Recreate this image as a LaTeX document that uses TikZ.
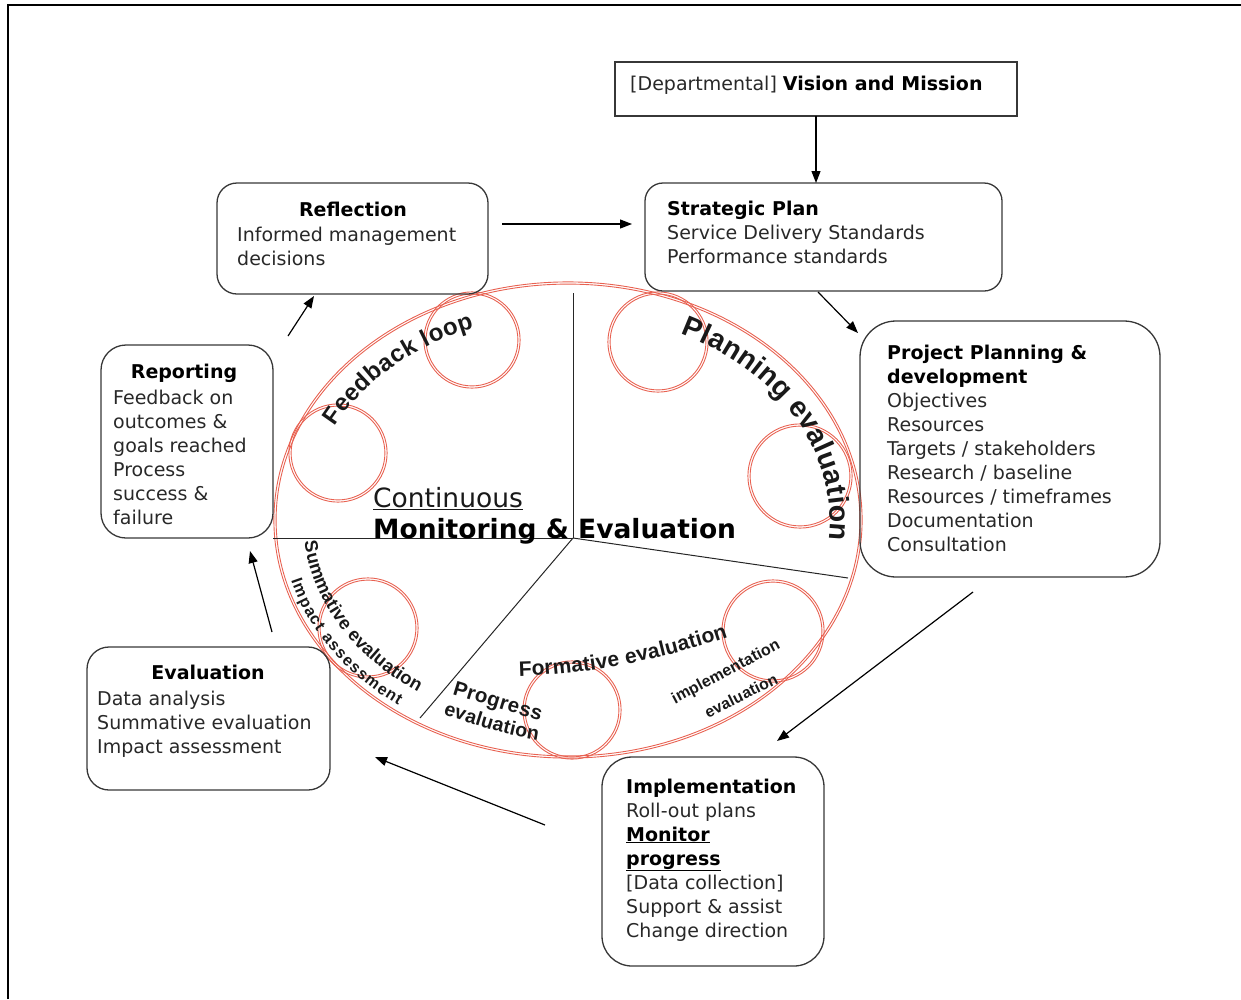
\documentclass[tikz,border=0pt]{standalone}
\usepackage{fontspec}
\setmainfont{DejaVu Sans}
\newfontfamily\arcfont{Liberation Sans}
\usetikzlibrary{arrows.meta,decorations.text}

\definecolor{ringred}{RGB}{232,98,82}
\definecolor{boxline}{RGB}{55,55,55}
\definecolor{bodytext}{RGB}{40,40,40}

\newcommand\boxfont{\fontsize{19}{24}\selectfont}
\newcommand\hubfont{\fontsize{26.5}{32}\selectfont}
\newcommand\arcsize[1]{\arcfont\bfseries\fontsize{#1}{#1}\selectfont}

\begin{document}
\begin{tikzpicture}[x=1pt,y=-1pt,
  box/.style={draw=boxline,line width=1.3pt,rounded corners=#1,
              inner sep=0pt,outer sep=0pt},
  body/.style={font=\boxfont,align=left,inner sep=0pt,text=bodytext},
  head/.style={font=\boxfont\bfseries,inner sep=0pt,text=black},
  arr/.style={draw=black,line width=1.2pt,-{Triangle[length=12pt,width=9pt]}},
  divider/.style={draw=black!85,line width=1pt},
  ring/.style={draw=ringred,line width=0.9pt},
  arctext/.style={decorate,decoration={text along path,text align=fit to path,
                  text color=black!90,text={#1}}},
]
\useasboundingbox (0,0) rectangle (1241,999);

% page frame
\draw[line width=2.2pt] (8,999) -- (8,5) -- (1241,5);

% ---------- central ring ----------
\coordinate (ctr) at (568,520);
\draw[ring] (ctr) ellipse[x radius=291.9, y radius=235.9];
\draw[ring] (ctr) ellipse[x radius=294.1, y radius=238.1];
\foreach \cx/\cy/\r in {472/340/47, 338/453/48, 658/342/49, 800/476/51,
                        368/628/49, 572/710/48, 773/631/50}{
  \draw[ring] (\cx,\cy) circle[radius=\r-1.1];
  \draw[ring] (\cx,\cy) circle[radius=\r+1.1];
}

% sector dividers
\coordinate (hub) at (573,538);
\coordinate (dTop) at (573,293);
\coordinate (dLow) at (420,718);
\coordinate (dRight) at (848,578);

% ---------- boxes ----------
\node[box=0pt, minimum width=402pt, minimum height=54pt] (vis) at (816,89) {};
\node[box=18pt, minimum width=357pt, minimum height=108pt] (strat) at (823.5,237) {};
\node[box=20pt, minimum width=271pt, minimum height=111pt] (refl) at (352.5,238.5) {};
\node[box=25pt, minimum width=172pt, minimum height=193pt] (rep) at (187,441.5) {};
\node[box=36pt, minimum width=300pt, minimum height=256pt] (proj) at (1010,449) {};
\node[box=22pt, minimum width=243pt, minimum height=143pt] (eval) at (208.5,718.5) {};
\node[box=30pt, minimum width=222pt, minimum height=209pt] (impl) at (713,861.5) {};

\draw[divider] (hub) -- (dTop);
\draw[divider] (hub) -- (rep.south east);
\draw[divider] (hub) -- (dLow);
\draw[divider] (hub) -- (dRight);

% ---------- box texts (each anchored at the baseline of its last line) ----------
\node[body, anchor=base west] (visT) at (630,90)
  {[Departmental] \textcolor{black}{\textbf{Vision and Mission}}};
\node[body, anchor=base west] (stratT) at (667,263)
  {\textcolor{black}{\textbf{Strategic Plan}}\\Service Delivery Standards\\Performance standards};
\node[head, anchor=base] (reflH) at (353,216) {Reflection};
\node[body, anchor=base west] (reflT) at (237,265) {Informed management\\decisions};
\node[head, anchor=base] (repH) at (184,378) {Reporting};
\node[body, anchor=base west] (repT) at (113,524)
  {Feedback on\\outcomes \&\\goals reached\\Process\\success \&\\failure};
\node[body, anchor=base west] (projT) at (887,551)
  {\textcolor{black}{\textbf{Project Planning \&}}\\\textcolor{black}{\textbf{development}}\\Objectives\\Resources\\Targets / stakeholders\\Research / baseline\\Resources / timeframes\\Documentation\\Consultation};
\node[head, anchor=base] (evalH) at (208,679) {Evaluation};
\node[body, anchor=base west] (evalT) at (97,753)
  {Data analysis\\Summative evaluation\\Impact assessment};
\node[body, anchor=base west] (implT) at (626,937)
  {\textcolor{black}{\textbf{Implementation}}\\Roll-out plans\\\textcolor{black}{\textbf{\underline{Monitor}}}\\\textcolor{black}{\textbf{\underline{progress}}}\\{}[Data collection]\\Support \& assist\\Change direction};

% ---------- centre label ----------
\node[font=\hubfont, anchor=base west, inner sep=0pt, text=black!90] (hubA) at (373,507) {\underline{Continuous}};
\node[font=\hubfont\bfseries, anchor=base west, inner sep=0pt] (hubB) at (373,538) {Monitoring \& Evaluation};

% ---------- texts along the ring ----------
\path[arctext={|\arcsize{24}|Feedback loop}]
  ([shift={(207:262 and 206)}]ctr) arc[start angle=207, end angle=249, x radius=262, y radius=206];
\path[arctext={|\arcsize{28.5}|Planning evaluation}]
  ([shift={(295.5:262 and 206)}]ctr) arc[start angle=295.5, end angle=365.6, x radius=262, y radius=206];
\path[arctext={|\arcsize{18.3}|Summative evaluation}]
  ([shift={(174:265 and 209)}]ctr) arc[start angle=174, end angle=124.5, x radius=265, y radius=209];
\path[arctext={|\arcsize{16}|Impact assessment}]
  ([shift={(164.8:287 and 230)}]ctr) arc[start angle=164.8, end angle=126.2, x radius=287, y radius=230];

\coordinate (pgA) at (452,694);  \coordinate (pgB) at (540,721);
\coordinate (peA) at (443,714);  \coordinate (peB) at (538,740);
\path[arctext={|\arcsize{20.5}|Progress}] (pgA) -- (pgB);
\path[arctext={|\arcsize{19.5}|evaluation}] (peA) .. controls (475,725) and (505,735) .. (peB);

\coordinate (fmA) at (519,676);  \coordinate (fmB) at (728,637);
\path[arctext={|\arcsize{21}|Formative evaluation}]
  (fmA) .. controls (586.7,674.3) and (656.3,661.3) .. (fmB);

\coordinate (imA) at (675,704);  \coordinate (imB) at (781,648);
\coordinate (ieA) at (708,718);  \coordinate (ieB) at (779,683);
\path[arctext={|\arcsize{16}|implementation}] (imA) -- (imB);
\path[arctext={|\arcsize{15.8}|evaluation}] (ieA) -- (ieB);

% ---------- cycle arrows ----------
\draw[arr] (vis.south) -- (vis.south |- strat.north);
\draw[arr] ([shift={(14pt,14.5pt)}]refl.east) -- ([shift={(-13pt,13pt)}]strat.west);
\draw[arr] ([shift={(-5.5pt,-1pt)}]strat.south) -- ([shift={(-2pt,-12pt)}]proj.north west);
\draw[arr] ([shift={(-37pt,-15pt)}]proj.south) -- ([shift={(64pt,16pt)}]impl.north);
\draw[arr] ([shift={(-57pt,36.5pt)}]impl.west) -- ([shift={(45pt,-38.5pt)}]eval.east);
\draw[arr] ([shift={(63.5pt,15pt)}]eval.north) -- ([shift={(63pt,-13pt)}]rep.south);
\draw[arr] ([shift={(15pt,9pt)}]rep.north east) -- ([shift={(-38.5pt,-2pt)}]refl.south);
\end{tikzpicture}
\end{document}
